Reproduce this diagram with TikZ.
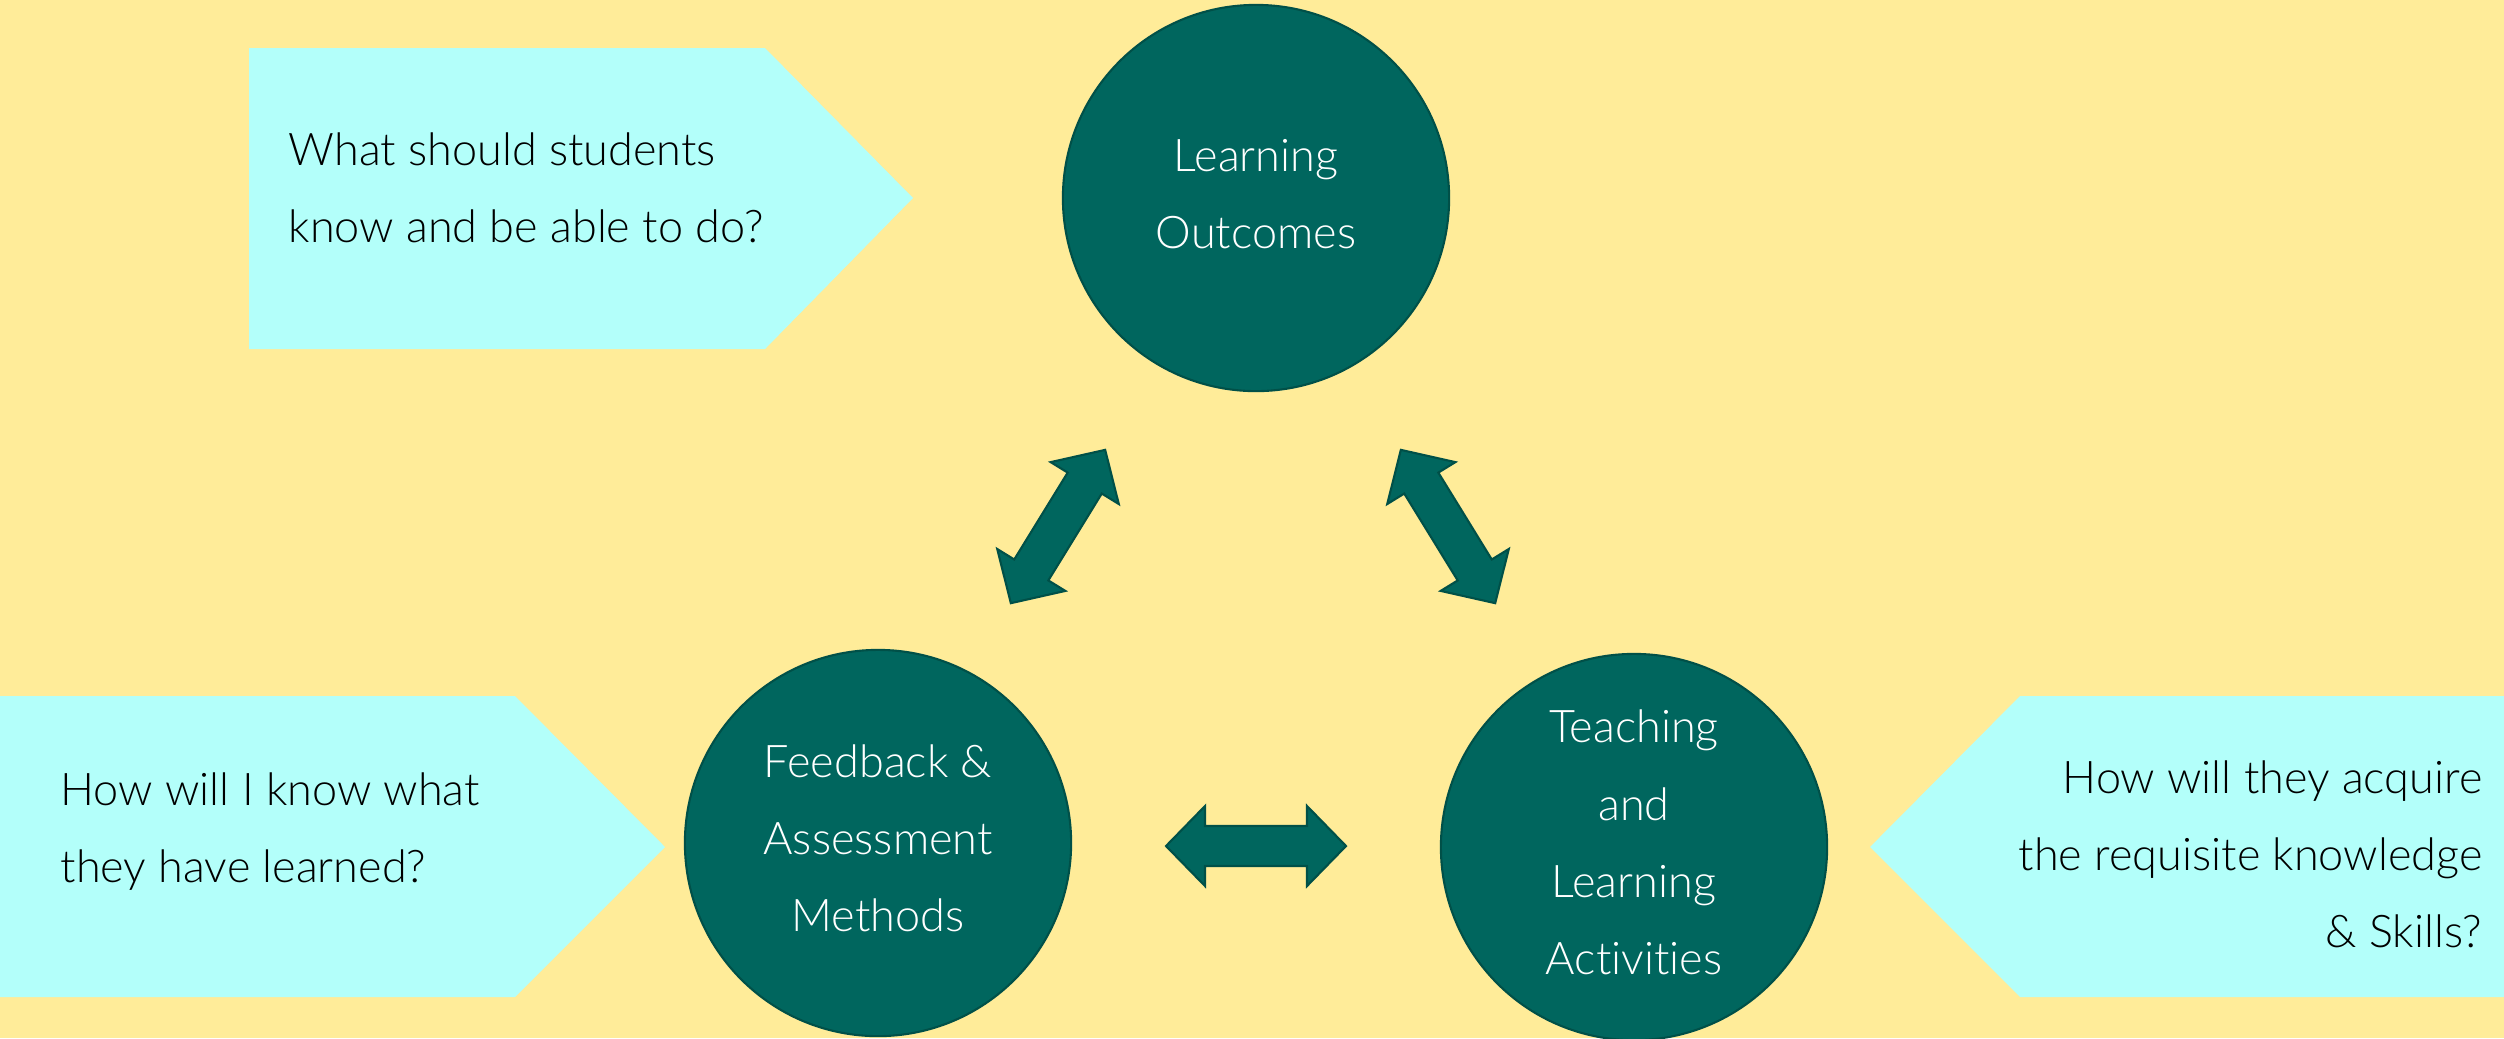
\documentclass[tikz,border=0pt]{standalone}
\usepackage{fontspec}
\setmainfont{Lato}[UprightFont={* Light}, Ligatures=NoCommon]
\definecolor{bgyellow}{RGB}{255,236,153}
\definecolor{boxcyan}{RGB}{179,255,250}
\definecolor{tealfill}{RGB}{0,102,94}
\definecolor{tealline}{RGB}{0,80,72}
\tikzset{
  bubble/.style={circle, fill=tealfill, draw=tealline, line width=0.6pt, minimum size=3.86cm, inner sep=0pt},
  bubbletext/.style={text=white, align=center, font=\fontsize{12.8}{21.9}\selectfont, inner sep=0pt},
  qtext/.style={text=black, font=\fontsize{12.8}{21.9}\selectfont, inner sep=0pt},
  qbox/.style={fill=boxcyan},
  blockarrow/.style={fill=tealfill, draw=tealline, line width=0.6pt, line join=miter},
  dblarrow/.pic={
    \path[blockarrow] (-90,0) -- (-51,-40) -- (-51,-20) -- (51,-20) -- (51,-40) -- (90,0)
      -- (51,40) -- (51,20) -- (-51,20) -- (-51,40) -- cycle;
  }
}
\begin{document}
\begin{tikzpicture}[x=0.01cm, y=-0.01cm]
\useasboundingbox (0,0) rectangle (2504,1038);
\fill[bgyellow] (0,0) rectangle (2504,1038);

% question boxes
\fill[qbox] (249,48) -- (765,48) -- (913,198) -- (765,349) -- (249,349) -- cycle;
\fill[qbox] (0,696) -- (515,696) -- (665,847) -- (515,997) -- (0,997) -- cycle;
\fill[qbox] (2504,696) -- (2020,696) -- (1870,847) -- (2020,997) -- (2504,997) -- cycle;

% (base anchor = baseline of the last line)
\node[qtext, anchor=base west, align=left] (q1) at (288,242)
  {What should students\\know and be able to do?};
\node[qtext, anchor=base west, align=left] (q2) at (60,882)
  {How will I know what\\they have learned?};
\node[qtext, anchor=base east, align=right] (q3) at (2483,947)
  {How will they acquire\\the requisite knowledge\\\& Skills?};

% circles
\node[bubble] (lo) at (1256,198) {};
\node[bubble] (fa) at (878,843) {};
\node[bubble] (tl) at (1634,847) {};

\node[bubbletext, anchor=base] (loT) at (1256,248) {Learning\\Outcomes};
\node[bubbletext, anchor=base] (faT) at (878,931) {Feedback \&\\Assessment\\Methods};
\node[bubbletext, anchor=base] (tlT) at (1634,974) {Teaching\\and\\Learning\\Activities};

% double block arrows
\pic[rotate=58.4] at (1058,526.5) {dblarrow};
\pic[rotate=-58.4] at (1448,526.5) {dblarrow};
\pic at (1256,846) {dblarrow};
\end{tikzpicture}
\end{document}
